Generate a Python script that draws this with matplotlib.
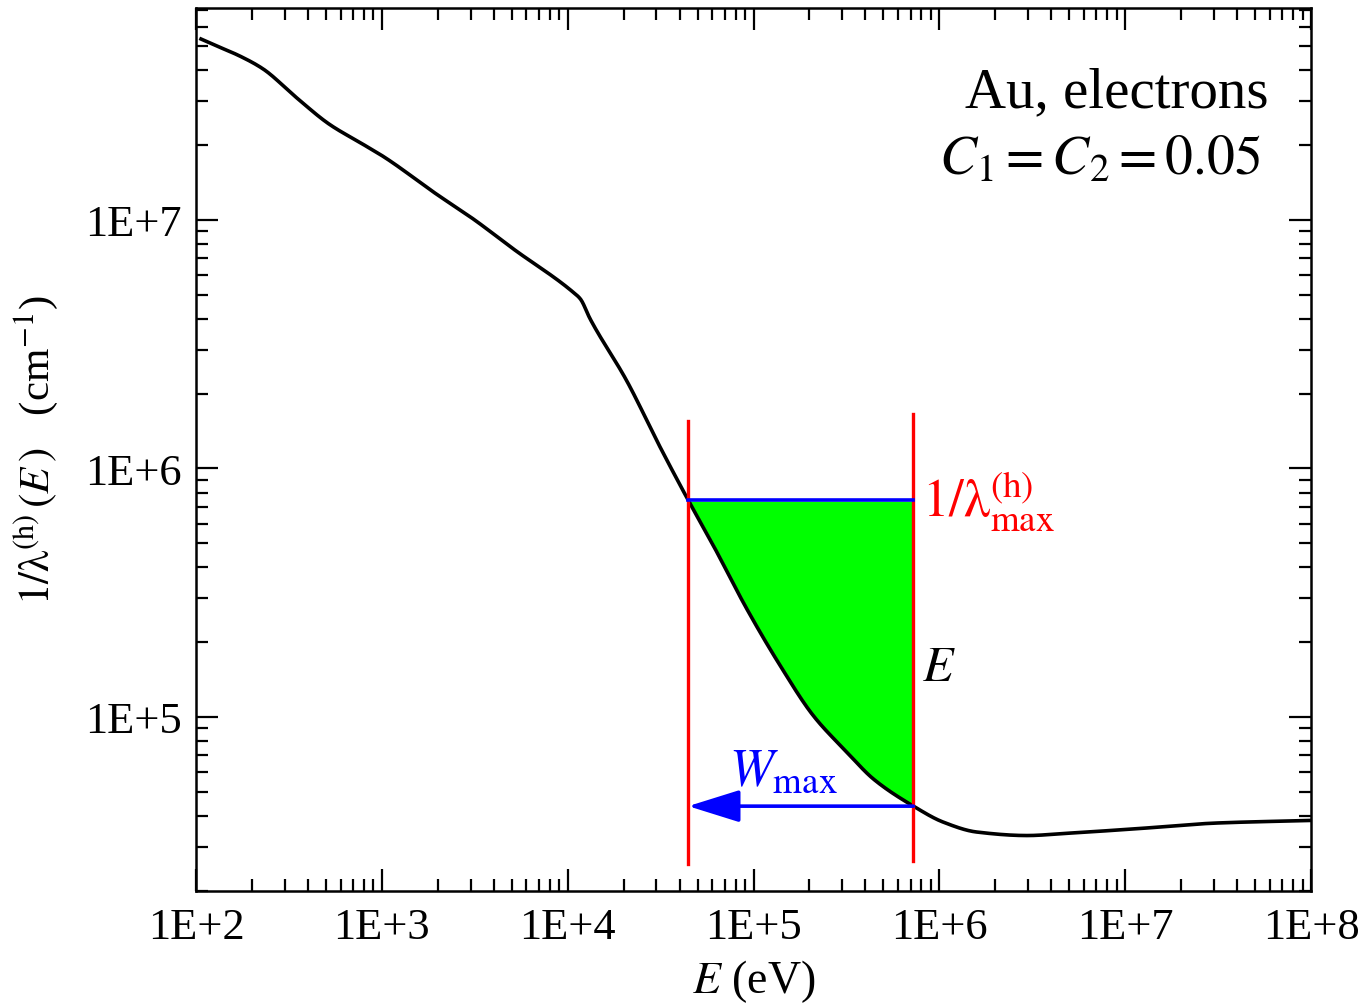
import numpy as np
import matplotlib
matplotlib.use("Agg")
import matplotlib.pyplot as plt
from matplotlib.ticker import LogLocator, FuncFormatter, NullFormatter

# inverse hard-collision mean free path for electrons in gold
energy_ev = [106.4, 129, 171, 229, 345, 521, 789, 1.02e3, 1.97e3, 3.10e3,
             5.11e3, 1.07e4, 1.17e4, 1.32e4, 2.08e4, 3.14e4, 4.47e4, 6.08e4,
             9.20e4, 1.39e5, 2.10e5, 3.18e5, 4.42e5, 7.26e5, 1.05e6, 1.59e6,
             2.96e6, 4.85e6, 1.11e7, 3.12e7, 9.91e7]
inv_lambda = [5.35e7, 5.02e7, 4.58e7, 4.06e7, 3.12e7, 2.43e7, 2.02e7, 1.80e7,
              1.27e7, 1.01e7, 7.64e6, 5.12e6, 4.81e6, 4.00e6, 2.25e6, 1.22e6,
              7.41e5, 4.89e5, 2.72e5, 1.61e5, 1.01e5, 7.21e4, 5.62e4, 4.37e4,
              3.77e4, 3.44e4, 3.33e4, 3.40e4, 3.54e4, 3.74e4, 3.83e4]

# energy window: E - W_max and E
e_low = 4.45e4
e_high = 7.25e5
red_low_span = [2.56e4, 1.55e6]
red_high_span = [2.63e4, 1.66e6]

plt.rcParams['font.family'] = ['Liberation Serif', 'DejaVu Serif']
plt.rcParams['mathtext.fontset'] = 'stix'


def pchip(x, y, xn):
    # monotone cubic (Fritsch-Carlson) through the tabulated points
    h = np.diff(x)
    d = np.diff(y) / h
    m = np.zeros_like(y)
    m[0], m[-1] = d[0], d[-1]
    for k in range(1, len(x) - 1):
        if d[k - 1] * d[k] > 0:
            w1 = 2 * h[k] + h[k - 1]
            w2 = h[k] + 2 * h[k - 1]
            m[k] = (w1 + w2) / (w1 / d[k - 1] + w2 / d[k])
    i = np.clip(np.searchsorted(x, xn) - 1, 0, len(x) - 2)
    t = (xn - x[i]) / h[i]
    h00 = 2 * t**3 - 3 * t**2 + 1
    h10 = t**3 - 2 * t**2 + t
    h01 = -2 * t**3 + 3 * t**2
    h11 = t**3 - t**2
    return h00 * y[i] + h10 * h[i] * m[i] + h01 * y[i + 1] + h11 * h[i] * m[i + 1]


lx = np.log10(energy_ev)
ly = np.log10(inv_lambda)


def curve_at(e):
    return 10 ** pchip(lx, ly, np.log10(e))


inv_lmax = curve_at(np.array([e_low]))[0]
inv_at_e = curve_at(np.array([e_high]))[0]

fig = plt.figure(figsize=(13.64, 10.04), dpi=100)
ax = fig.add_axes([0.1437, 0.112, 0.8175, 0.879])
ax.set_xscale('log')
ax.set_yscale('log')
ax.set_xlim(1e2, 1e8)
ax.set_ylim(2.0e4, 7.13e7)

# shaded area between the curve and 1/lambda_max
xs = np.logspace(np.log10(e_low), np.log10(e_high), 300)
ax.fill_between(xs, curve_at(xs), inv_lmax, facecolor='#00ff00',
                edgecolor='white', linewidth=1.5, zorder=1)

e_fine = np.logspace(lx[0], lx[-1], 1500)
ax.plot(e_fine, curve_at(e_fine), color='black', lw=2.6, zorder=3)

ax.plot([e_low, e_low], red_low_span, color='#ff0000', lw=2.4, zorder=4)
ax.plot([e_high, e_high], red_high_span, color='#ff0000', lw=2.4, zorder=4)
ax.plot([e_low, e_high], [inv_lmax, inv_lmax], color='#0000ff', lw=2.6, zorder=5)
ax.annotate('', xy=(e_low, inv_at_e), xytext=(e_high, inv_at_e),
            arrowprops=dict(arrowstyle='-|>,head_length=1.6,head_width=0.5',
                            mutation_scale=20, color='#0000ff', lw=2.6,
                            shrinkA=0, shrinkB=0), zorder=5)

ax.text(e_high * 1.11, inv_lmax * 1.0, r'$1/\mathrm{\lambda}^{\rm (h)}_{\rm max}$',
        color='#ff0000', fontsize=38, va='center', ha='left')
ax.text(e_high * 1.11, 1.58e5, r'$E$', color='black', fontsize=36,
        va='center', ha='left')
ax.text(e_low * 1.65, 6.0e4, r'$W_{\rm max}$', color='#0000ff', fontsize=38,
        va='center', ha='left')

ax.text(0.962, 0.905, 'Au, electrons', transform=ax.transAxes,
        fontsize=41, ha='right', va='center')
ax.text(0.955, 0.828, r'$C_1 = C_2 = 0.05$', transform=ax.transAxes,
        fontsize=40, ha='right', va='center')

fmt = FuncFormatter(lambda v, p: '1E+%d' % int(round(np.log10(v))))
for axis in (ax.xaxis, ax.yaxis):
    axis.set_major_locator(LogLocator(base=10, numticks=20))
    axis.set_minor_locator(LogLocator(base=10, subs=np.arange(2, 10), numticks=20))
    axis.set_major_formatter(fmt)
    axis.set_minor_formatter(NullFormatter())

ax.tick_params(which='both', direction='in', top=True, right=True, width=1.6)
ax.tick_params(which='major', length=16, labelsize=32)
ax.tick_params(which='minor', length=8.5)
ax.tick_params(axis='x', pad=12)
ax.tick_params(axis='y', pad=10)
for s in ax.spines.values():
    s.set_linewidth(1.8)

ax.set_xlabel(r'$E$ (eV)', fontsize=33, labelpad=7)
ax.set_ylabel(r'$1/\mathrm{\lambda}^{\rm (h)}\,(E\,)$   (cm$^{-1}$)', fontsize=31, labelpad=18)

fig.savefig('out.png', dpi=100)
